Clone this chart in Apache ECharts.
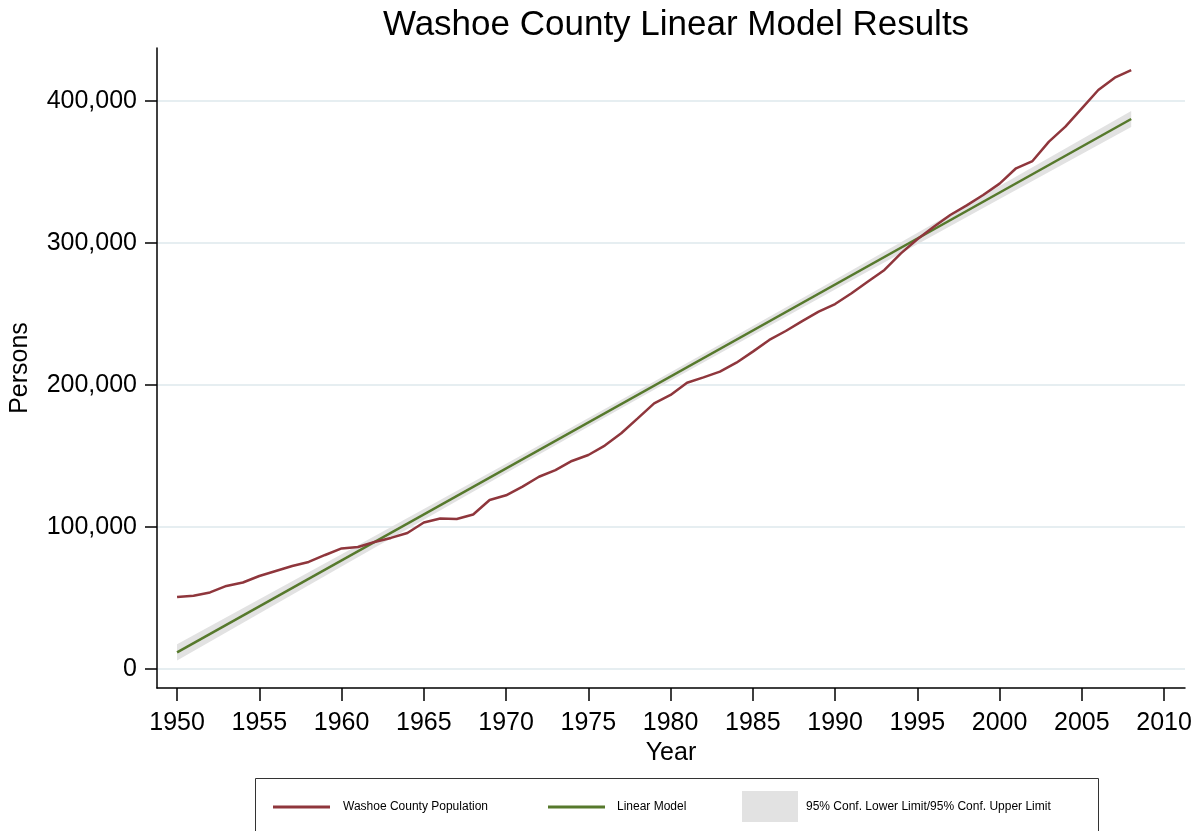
<!DOCTYPE html>
<html>
<head>
<meta charset="utf-8">
<title>Washoe County Linear Model Results</title>
<script src="https://cdn.jsdelivr.net/npm/echarts@6/dist/echarts.min.js"></script>
<style>
  html, body { margin: 0; padding: 0; background: #fff; }
  #chart { width: 1201px; height: 831px; }
</style>
</head>
<body>
<div id="chart"></div>
<script>
  // population, one value per year
  const years = [
    1950, 1951, 1952, 1953, 1954, 1955, 1956, 1957, 1958, 1959,
    1960, 1961, 1962, 1963, 1964, 1965, 1966, 1967, 1968, 1969,
    1970, 1971, 1972, 1973, 1974, 1975, 1976, 1977, 1978, 1979,
    1980, 1981, 1982, 1983, 1984, 1985, 1986, 1987, 1988, 1989,
    1990, 1991, 1992, 1993, 1994, 1995, 1996, 1997, 1998, 1999,
    2000, 2001, 2002, 2003, 2004, 2005, 2006, 2007, 2008
  ];
  const population = [
    50700, 51600, 53900, 58500, 60900, 65500, 69000, 72500, 75400, 80300,
    84900, 85900, 89400, 92300, 95800, 103200, 106000, 105600, 108800, 119000,
    122300, 128400, 135400, 140100, 146500, 150700, 157300, 166000, 176500, 187100,
    193000, 201600, 205400, 209400, 215700, 223500, 231700, 238000, 245000, 251600,
    257000, 264600, 272800, 281000, 292700, 302600, 311500, 319700, 326500, 333800,
    341800, 352600, 357700, 371400, 381900, 394800, 407700, 416400, 421800
  ];

  // linear model end points
  const modelYears = [1950, 2008];
  const modelValues = [11700, 387300];

  // 95% confidence band
  const bandYears = [1950, 1960, 1970, 1979, 1990, 2000, 2008];
  const bandLower = [6000, 72200, 138000, 196600, 267300, 330900, 381600];
  const bandUpper = [17400, 80800, 144500, 202400, 274100, 340100, 393000];

  const xTicks = [1950, 1955, 1960, 1965, 1970, 1975, 1980, 1985, 1990, 1995, 2000, 2005, 2010];
  const yTicks = [0, 100000, 200000, 300000, 400000];

  const popName = 'Washoe County Population';
  const modelName = 'Linear Model';
  const bandName = '95% Conf. Lower Limit/95% Conf. Upper Limit';

  const red = '#8f363c';
  const green = '#56792c';
  const gray = '#e2e2e2';
  const font = '"Liberation Sans", Arial, sans-serif';

  const chart = echarts.init(document.getElementById('chart'));

  // band polygon: upper edge left to right, then lower edge back
  function renderBand(params, api) {
    if (params.dataIndex !== 0) return null;
    const pts = [];
    for (let i = 0; i < bandYears.length; i++) pts.push(api.coord([bandYears[i], bandUpper[i]]));
    for (let i = bandYears.length - 1; i >= 0; i--) pts.push(api.coord([bandYears[i], bandLower[i]]));
    return {
      type: 'polygon',
      shape: { points: pts },
      style: { fill: gray, stroke: null }
    };
  }

  chart.setOption({
    animation: false,
    backgroundColor: '#fff',
    title: {
      text: 'Washoe County Linear Model Results',
      left: 671,
      top: 3,
      textAlign: 'center',
      textStyle: { fontFamily: font, fontSize: 35, fontWeight: 'normal', color: '#000' }
    },
    grid: { left: 157, right: 16, top: 48, bottom: 143, containLabel: false, outerBoundsMode: 'none' },
    xAxis: {
      type: 'value',
      min: 1948.78,
      max: 2011.27,
      name: 'Year',
      nameLocation: 'middle',
      nameGap: 45,
      nameTextStyle: { fontFamily: font, fontSize: 25, color: '#000' },
      axisLine: { onZero: false, lineStyle: { color: '#000', width: 1.5 } },
      axisTick: { customValues: xTicks, length: 13, lineStyle: { color: '#000', width: 1.5 } },
      axisLabel: {
        customValues: xTicks,
        margin: 23,
        fontFamily: font,
        fontSize: 25,
        color: '#000',
        formatter: v => String(v)
      },
      splitLine: { show: false }
    },
    yAxis: {
      type: 'value',
      min: -13380,
      max: 437300,
      name: 'Persons',
      nameLocation: 'middle',
      nameRotate: 90,
      nameGap: 124,
      nameTextStyle: { fontFamily: font, fontSize: 25, color: '#000' },
      axisLine: { show: true, onZero: false, lineStyle: { color: '#000', width: 1.5 } },
      axisTick: { show: true, customValues: yTicks, length: 12, lineStyle: { color: '#000', width: 1.5 } },
      axisLabel: {
        customValues: yTicks,
        margin: 20,
        fontFamily: font,
        fontSize: 25,
        color: '#000',
        formatter: v => v.toLocaleString('en-US')
      },
      splitLine: { show: true, lineStyle: { color: '#e6eef1', width: 2 } }
    },
    legend: [
      {
        data: [popName],
        left: 268, top: 796,
        icon: 'rect', itemWidth: 57, itemHeight: 3,
        textStyle: { fontFamily: font, fontSize: 12, color: '#000', padding: [0, 0, 0, 8] }
      },
      {
        data: [modelName],
        left: 543, top: 796,
        icon: 'rect', itemWidth: 57, itemHeight: 3,
        textStyle: { fontFamily: font, fontSize: 12, color: '#000', padding: [0, 0, 0, 7] }
      },
      {
        data: [{ name: bandName, itemStyle: { color: gray } }],
        left: 737, top: 786,
        icon: 'rect', itemWidth: 56, itemHeight: 31,
        textStyle: { fontFamily: font, fontSize: 12, color: '#000', padding: [0, 0, 0, 3] }
      }
    ],
    graphic: [
      {
        type: 'rect',
        shape: { x: 255.5, y: 778.5, width: 843, height: 70 },
        style: { fill: 'none', stroke: '#333', lineWidth: 1 },
        silent: true
      }
    ],
    series: [
      {
        name: bandName,
        type: 'custom',
        renderItem: renderBand,
        data: bandYears.map((y, i) => [y, bandLower[i], bandUpper[i]]),
        encode: { x: 0, y: [1, 2] },
        itemStyle: { color: gray },
        silent: true,
        z: 1
      },
      {
        name: modelName,
        type: 'line',
        data: modelYears.map((y, i) => [y, modelValues[i]]),
        symbol: 'none',
        color: green,
        lineStyle: { color: green, width: 2.5 },
        z: 3
      },
      {
        name: popName,
        type: 'line',
        data: years.map((y, i) => [y, population[i]]),
        symbol: 'none',
        color: red,
        lineStyle: { color: red, width: 2.5 },
        z: 4
      }
    ]
  });
</script>
</body>
</html>
